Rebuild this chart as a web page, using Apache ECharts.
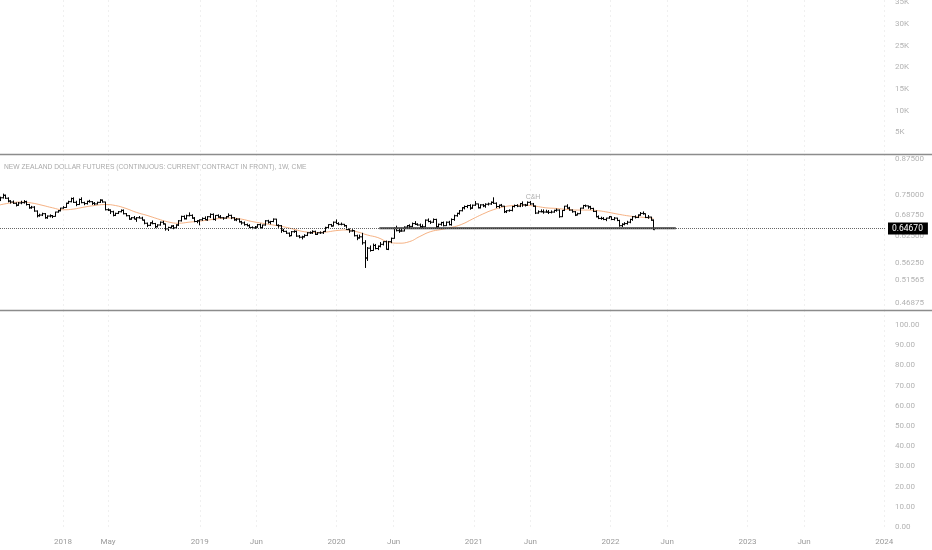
<!DOCTYPE html>
<html>
<head>
<meta charset="utf-8">
<title>New Zealand Dollar Futures 1W</title>
<script src="https://cdn.jsdelivr.net/npm/echarts@6.0.0/dist/echarts.min.js"></script>
<style>
  html, body { margin: 0; padding: 0; background: #fff; }
  #chart { width: 932px; height: 550px; }
</style>
</head>
<body>
<div id="chart"></div>
<script>
// weekly bars, first one is the week of 17 Jul 2017
var WEEK = 7 * 86400000;
var firstWeek = Date.UTC(2017, 6, 17);
function weekDate(i) { return firstWeek + i * WEEK; }

// [open, high, low, close]
var bars = [
  [0.7340, 0.7460, 0.7320, 0.7425], [0.7425, 0.7560, 0.7400, 0.7505], [0.7505, 0.7530, 0.7390, 0.7410],
  [0.7410, 0.7440, 0.7280, 0.7320], [0.7320, 0.7350, 0.7240, 0.7290], [0.7290, 0.7340, 0.7230, 0.7250],
  [0.7250, 0.7280, 0.7150, 0.7190], [0.7190, 0.7290, 0.7170, 0.7260], [0.7260, 0.7330, 0.7220, 0.7270],
  [0.7270, 0.7350, 0.7240, 0.7300], [0.7300, 0.7330, 0.7180, 0.7210], [0.7210, 0.7230, 0.7080, 0.7110],
  [0.7110, 0.7170, 0.7080, 0.7130], [0.7130, 0.7160, 0.6990, 0.7010], [0.7010, 0.7030, 0.6820, 0.6870],
  [0.6870, 0.6930, 0.6840, 0.6890], [0.6890, 0.6960, 0.6860, 0.6930], [0.6930, 0.6950, 0.6780, 0.6810],
  [0.6810, 0.6880, 0.6780, 0.6860], [0.6860, 0.6910, 0.6820, 0.6870], [0.6870, 0.6890, 0.6800, 0.6850],
  [0.6850, 0.6990, 0.6840, 0.6980], [0.6980, 0.7040, 0.6960, 0.7020], [0.7020, 0.7110, 0.7000, 0.7100],
  // 2018
  [0.7100, 0.7160, 0.7080, 0.7120], [0.7120, 0.7270, 0.7110, 0.7250], [0.7250, 0.7330, 0.7230, 0.7300],
  [0.7300, 0.7430, 0.7280, 0.7400], [0.7400, 0.7440, 0.7260, 0.7280], [0.7280, 0.7330, 0.7160, 0.7210],
  [0.7210, 0.7400, 0.7200, 0.7370], [0.7370, 0.7440, 0.7250, 0.7270], [0.7270, 0.7300, 0.7190, 0.7240],
  [0.7240, 0.7330, 0.7210, 0.7310], [0.7310, 0.7360, 0.7270, 0.7300], [0.7300, 0.7320, 0.7200, 0.7250],
  [0.7250, 0.7290, 0.7190, 0.7230], [0.7230, 0.7300, 0.7210, 0.7280], [0.7280, 0.7380, 0.7260, 0.7350],
  [0.7350, 0.7370, 0.7270, 0.7290], [0.7290, 0.7300, 0.7030, 0.7050], [0.7050, 0.7090, 0.7010, 0.7040],
  [0.7040, 0.7060, 0.6920, 0.6990], [0.6990, 0.7020, 0.6850, 0.6880], [0.6880, 0.6960, 0.6860, 0.6940],
  [0.6940, 0.7010, 0.6920, 0.6990], [0.6990, 0.7060, 0.6970, 0.7030], [0.7030, 0.7060, 0.6910, 0.6930],
  [0.6930, 0.6950, 0.6850, 0.6870], [0.6870, 0.6890, 0.6750, 0.6770], [0.6770, 0.6830, 0.6750, 0.6810],
  [0.6810, 0.6860, 0.6760, 0.6770], [0.6770, 0.6830, 0.6690, 0.6810], [0.6810, 0.6860, 0.6790, 0.6800],
  [0.6800, 0.6840, 0.6730, 0.6740], [0.6740, 0.6760, 0.6620, 0.6650], [0.6650, 0.6670, 0.6540, 0.6590],
  [0.6590, 0.6680, 0.6570, 0.6660], [0.6660, 0.6730, 0.6620, 0.6640], [0.6640, 0.6660, 0.6510, 0.6550],
  [0.6550, 0.6620, 0.6530, 0.6600], [0.6600, 0.6700, 0.6580, 0.6680], [0.6680, 0.6720, 0.6610, 0.6630],
  [0.6630, 0.6640, 0.6440, 0.6490], [0.6490, 0.6550, 0.6430, 0.6530], [0.6530, 0.6590, 0.6500, 0.6570],
  [0.6570, 0.6600, 0.6480, 0.6520], [0.6520, 0.6620, 0.6500, 0.6600], [0.6600, 0.6740, 0.6570, 0.6720],
  [0.6720, 0.6870, 0.6700, 0.6850], [0.6850, 0.6880, 0.6760, 0.6780], [0.6780, 0.6900, 0.6760, 0.6870],
  [0.6870, 0.6970, 0.6850, 0.6880], [0.6880, 0.6910, 0.6780, 0.6800], [0.6800, 0.6830, 0.6680, 0.6700],
  [0.6700, 0.6740, 0.6650, 0.6720], [0.6720, 0.6760, 0.6590, 0.6750],
  // 2019
  [0.6750, 0.6820, 0.6720, 0.6790], [0.6790, 0.6850, 0.6740, 0.6750], [0.6750, 0.6860, 0.6720, 0.6840],
  [0.6840, 0.6940, 0.6800, 0.6910], [0.6910, 0.6940, 0.6740, 0.6760], [0.6760, 0.6890, 0.6720, 0.6880],
  [0.6880, 0.6910, 0.6810, 0.6830], [0.6830, 0.6890, 0.6790, 0.6810], [0.6810, 0.6830, 0.6750, 0.6800],
  [0.6800, 0.6860, 0.6780, 0.6840], [0.6840, 0.6940, 0.6820, 0.6880], [0.6880, 0.6900, 0.6770, 0.6810],
  [0.6810, 0.6830, 0.6720, 0.6750], [0.6750, 0.6800, 0.6710, 0.6770], [0.6770, 0.6790, 0.6670, 0.6690],
  [0.6690, 0.6720, 0.6610, 0.6660], [0.6660, 0.6700, 0.6580, 0.6610], [0.6610, 0.6640, 0.6560, 0.6580],
  [0.6580, 0.6620, 0.6510, 0.6530], [0.6530, 0.6560, 0.6480, 0.6520], [0.6520, 0.6570, 0.6490, 0.6540],
  [0.6540, 0.6630, 0.6520, 0.6610], [0.6610, 0.6640, 0.6510, 0.6520], [0.6520, 0.6610, 0.6490, 0.6600],
  [0.6600, 0.6740, 0.6580, 0.6720], [0.6720, 0.6750, 0.6640, 0.6680], [0.6680, 0.6720, 0.6620, 0.6700],
  [0.6700, 0.6790, 0.6680, 0.6770], [0.6770, 0.6780, 0.6580, 0.6590], [0.6590, 0.6620, 0.6520, 0.6580],
  [0.6580, 0.6600, 0.6380, 0.6450], [0.6450, 0.6490, 0.6400, 0.6420], [0.6420, 0.6440, 0.6350, 0.6370],
  [0.6370, 0.6390, 0.6270, 0.6300], [0.6300, 0.6430, 0.6290, 0.6410], [0.6410, 0.6450, 0.6380, 0.6420],
  [0.6420, 0.6440, 0.6270, 0.6290], [0.6290, 0.6320, 0.6230, 0.6260], [0.6260, 0.6300, 0.6200, 0.6270],
  [0.6270, 0.6340, 0.6250, 0.6310], [0.6310, 0.6400, 0.6290, 0.6380], [0.6380, 0.6420, 0.6350, 0.6380],
  [0.6380, 0.6450, 0.6350, 0.6420], [0.6420, 0.6440, 0.6320, 0.6340], [0.6340, 0.6400, 0.6320, 0.6380],
  [0.6380, 0.6420, 0.6350, 0.6380], [0.6380, 0.6430, 0.6350, 0.6420], [0.6420, 0.6550, 0.6400, 0.6530],
  [0.6530, 0.6620, 0.6510, 0.6610], [0.6610, 0.6630, 0.6550, 0.6570], [0.6570, 0.6700, 0.6560, 0.6680],
  [0.6680, 0.6760, 0.6630, 0.6640],
  // 2020
  [0.6640, 0.6680, 0.6590, 0.6620], [0.6620, 0.6670, 0.6590, 0.6620], [0.6620, 0.6630, 0.6550, 0.6580],
  [0.6580, 0.6600, 0.6460, 0.6470], [0.6470, 0.6500, 0.6380, 0.6430], [0.6430, 0.6480, 0.6410, 0.6440],
  [0.6440, 0.6450, 0.6280, 0.6300], [0.6300, 0.6330, 0.6180, 0.6240], [0.6240, 0.6330, 0.6220, 0.6270],
  [0.6270, 0.6380, 0.6060, 0.6110], [0.6110, 0.6180, 0.5480, 0.5720], [0.5720, 0.6000, 0.5650, 0.5970],
  [0.5970, 0.6040, 0.5880, 0.5910], [0.5910, 0.6090, 0.5900, 0.6040], [0.6040, 0.6080, 0.5940, 0.5960],
  [0.5960, 0.6040, 0.5920, 0.6020], [0.6020, 0.6130, 0.5990, 0.6070], [0.6070, 0.6150, 0.6040, 0.6140],
  [0.6140, 0.6170, 0.5930, 0.5940], [0.5940, 0.6160, 0.5920, 0.6140], [0.6140, 0.6250, 0.6100, 0.6230],
  [0.6230, 0.6530, 0.6220, 0.6500], [0.6500, 0.6580, 0.6420, 0.6440], [0.6440, 0.6510, 0.6380, 0.6430],
  [0.6430, 0.6520, 0.6410, 0.6430], [0.6430, 0.6560, 0.6420, 0.6540], [0.6540, 0.6600, 0.6500, 0.6580],
  [0.6580, 0.6620, 0.6510, 0.6560], [0.6560, 0.6670, 0.6540, 0.6640], [0.6640, 0.6710, 0.6600, 0.6620],
  [0.6620, 0.6650, 0.6580, 0.6600], [0.6600, 0.6640, 0.6520, 0.6550], [0.6550, 0.6620, 0.6510, 0.6550],
  [0.6550, 0.6760, 0.6540, 0.6740], [0.6740, 0.6790, 0.6680, 0.6700], [0.6700, 0.6730, 0.6630, 0.6680],
  [0.6680, 0.6790, 0.6660, 0.6760], [0.6760, 0.6780, 0.6520, 0.6550], [0.6550, 0.6640, 0.6530, 0.6620],
  [0.6620, 0.6690, 0.6580, 0.6670], [0.6670, 0.6700, 0.6560, 0.6580], [0.6580, 0.6700, 0.6570, 0.6680],
  [0.6680, 0.6720, 0.6590, 0.6610], [0.6610, 0.6790, 0.6580, 0.6760], [0.6760, 0.6900, 0.6720, 0.6870],
  [0.6870, 0.6960, 0.6840, 0.6940], [0.6940, 0.7040, 0.6900, 0.7020], [0.7020, 0.7130, 0.7000, 0.7110],
  [0.7110, 0.7180, 0.7060, 0.7150], [0.7150, 0.7200, 0.7100, 0.7180], [0.7180, 0.7220, 0.7050, 0.7100],
  [0.7100, 0.7210, 0.7080, 0.7190],
  // 2021
  [0.7190, 0.7320, 0.7170, 0.7230], [0.7230, 0.7240, 0.7090, 0.7110], [0.7110, 0.7220, 0.7090, 0.7200],
  [0.7200, 0.7230, 0.7130, 0.7170], [0.7170, 0.7250, 0.7110, 0.7220], [0.7220, 0.7270, 0.7180, 0.7230],
  [0.7230, 0.7310, 0.7200, 0.7280], [0.7280, 0.7440, 0.7230, 0.7250], [0.7250, 0.7280, 0.7100, 0.7150],
  [0.7150, 0.7210, 0.7090, 0.7190], [0.7190, 0.7230, 0.7140, 0.7160], [0.7160, 0.7170, 0.6950, 0.6990],
  [0.6990, 0.7040, 0.6950, 0.7020], [0.7020, 0.7060, 0.6990, 0.7030], [0.7030, 0.7170, 0.7000, 0.7150],
  [0.7150, 0.7210, 0.7120, 0.7180], [0.7180, 0.7220, 0.7130, 0.7160], [0.7160, 0.7260, 0.7130, 0.7240],
  [0.7240, 0.7310, 0.7140, 0.7200], [0.7200, 0.7230, 0.7150, 0.7190], [0.7190, 0.7310, 0.7170, 0.7280],
  [0.7280, 0.7320, 0.7200, 0.7230], [0.7230, 0.7260, 0.7140, 0.7160], [0.7160, 0.7180, 0.6920, 0.6950],
  [0.6950, 0.7030, 0.6930, 0.6990], [0.6990, 0.7060, 0.6970, 0.6990], [0.6990, 0.7060, 0.6930, 0.6980],
  [0.6980, 0.7050, 0.6960, 0.6980], [0.6980, 0.7040, 0.6920, 0.6970], [0.6970, 0.7030, 0.6940, 0.6980],
  [0.6980, 0.7050, 0.6960, 0.7030], [0.7030, 0.7090, 0.6990, 0.7040], [0.7040, 0.7060, 0.6810, 0.6840],
  [0.6840, 0.7040, 0.6830, 0.7030], [0.7030, 0.7170, 0.7010, 0.7160], [0.7160, 0.7220, 0.7080, 0.7100],
  [0.7100, 0.7140, 0.7020, 0.7040], [0.7040, 0.7060, 0.6960, 0.6990], [0.6990, 0.7010, 0.6860, 0.6890],
  [0.6890, 0.6960, 0.6880, 0.6930], [0.6930, 0.7110, 0.6920, 0.7100], [0.7100, 0.7200, 0.7080, 0.7180],
  [0.7180, 0.7210, 0.7130, 0.7170], [0.7170, 0.7180, 0.7080, 0.7140], [0.7140, 0.7170, 0.7050, 0.7090],
  [0.7090, 0.7110, 0.6980, 0.7000], [0.7000, 0.7030, 0.6820, 0.6840], [0.6840, 0.6880, 0.6770, 0.6790],
  [0.6790, 0.6840, 0.6750, 0.6790], [0.6790, 0.6830, 0.6740, 0.6760], [0.6760, 0.6810, 0.6710, 0.6800],
  [0.6800, 0.6860, 0.6780, 0.6840],
  // 2022
  [0.6840, 0.6850, 0.6740, 0.6760], [0.6760, 0.6830, 0.6730, 0.6800], [0.6800, 0.6810, 0.6710, 0.6730],
  [0.6730, 0.6750, 0.6550, 0.6580], [0.6580, 0.6650, 0.6540, 0.6620], [0.6620, 0.6680, 0.6590, 0.6640],
  [0.6640, 0.6720, 0.6610, 0.6680], [0.6680, 0.6780, 0.6650, 0.6760], [0.6760, 0.6860, 0.6720, 0.6840],
  [0.6840, 0.6880, 0.6790, 0.6820], [0.6820, 0.6910, 0.6800, 0.6890], [0.6890, 0.6980, 0.6870, 0.6940],
  [0.6940, 0.7000, 0.6900, 0.6930], [0.6930, 0.6940, 0.6800, 0.6820], [0.6820, 0.6890, 0.6780, 0.6830],
  [0.6830, 0.6840, 0.6720, 0.6740], [0.6740, 0.6760, 0.6460, 0.6467]
];

// orange moving average, read every 4 weeks: [week index, value]
var maPoints = [
  [0, 0.720], [4, 0.726], [8, 0.729], [12, 0.726], [16, 0.719], [20, 0.711], [24, 0.705], [28, 0.707],
  [32, 0.713], [36, 0.718], [40, 0.721], [44, 0.718], [48, 0.709], [52, 0.697], [56, 0.688], [60, 0.678],
  [64, 0.669], [68, 0.665], [72, 0.668], [76, 0.671], [80, 0.675], [84, 0.679], [88, 0.680], [92, 0.677],
  [96, 0.670], [100, 0.665], [104, 0.660], [108, 0.655], [112, 0.648], [116, 0.641], [120, 0.639], [124, 0.640],
  [128, 0.644], [132, 0.646], [136, 0.641], [140, 0.632], [144, 0.625], [148, 0.613], [152, 0.610], [156, 0.614],
  [160, 0.628], [164, 0.641], [168, 0.647], [172, 0.653], [176, 0.662], [180, 0.677], [184, 0.692], [188, 0.705],
  [192, 0.714], [196, 0.718], [200, 0.719], [204, 0.716], [208, 0.711], [212, 0.709], [216, 0.706], [220, 0.704],
  [224, 0.704], [228, 0.702], [232, 0.697], [236, 0.691], [240, 0.686], [244, 0.683], [248, 0.680], [249, 0.679]
];

var priceTicks = [0.875, 0.75, 0.6875, 0.625, 0.5625, 0.51565, 0.46875];
var volumeTicks = [5000, 10000, 15000, 20000, 25000, 30000, 35000];
var oscTicks = [0, 10, 20, 30, 40, 50, 60, 70, 80, 90, 100];
var dateTicks = [
  Date.UTC(2018, 0, 1), Date.UTC(2018, 4, 1), Date.UTC(2019, 0, 1), Date.UTC(2019, 5, 1),
  Date.UTC(2020, 0, 1), Date.UTC(2020, 5, 1), Date.UTC(2021, 0, 1), Date.UTC(2021, 5, 1),
  Date.UTC(2022, 0, 1), Date.UTC(2022, 5, 1), Date.UTC(2023, 0, 1), Date.UTC(2023, 5, 1),
  Date.UTC(2024, 0, 1)
];
var monthNames = ['Jan', 'Feb', 'Mar', 'Apr', 'May', 'Jun', 'Jul', 'Aug', 'Sep', 'Oct', 'Nov', 'Dec'];
var lastPrice = 0.6467;
// drawn support line and the text note
var supportLine = [[Date.UTC(2020, 3, 24), 0.651], [Date.UTC(2022, 5, 24), 0.651]];
var notePoint = [Date.UTC(2021, 5, 8), 0.745];
var noteText = 'C&H';
var titleText = 'NEW ZEALAND DOLLAR FUTURES (CONTINUOUS: CURRENT CONTRACT IN FRONT), 1W, CME';

var chart = echarts.init(document.getElementById('chart'));
var FONT = 'Roboto';
var labelGray = '#b3b3b3';

function dateLabel(v) {
  var d = new Date(v);
  return d.getUTCMonth() === 0 ? String(d.getUTCFullYear()) : monthNames[d.getUTCMonth()];
}

// x axis is a plain value axis on timestamps
function dateAxis(gridIndex, showLabels) {
  return {
    type: 'value',
    gridIndex: gridIndex,
    min: firstWeek,
    max: Date.UTC(2024, 0, 3),
    axisLine: { show: false },
    axisTick: { show: false, customValues: dateTicks },
    splitLine: { show: true, lineStyle: { color: '#f0f0f0', type: [2, 3], width: 1 } },
    axisLabel: {
      show: showLabels,
      customValues: dateTicks,
      formatter: dateLabel,
      color: '#9a9a9a',
      fontSize: 8,
      fontFamily: FONT,
      margin: 8
    }
  };
}

function ohlcBar(params, api) {
  var t = api.value(0);
  var pO = api.coord([t, api.value(1)]);
  var pH = api.coord([t, api.value(2)]);
  var pL = api.coord([t, api.value(3)]);
  var pC = api.coord([t, api.value(4)]);
  var x = Math.round(pH[0]) + 0.5;
  var st = { stroke: '#000', lineWidth: 1 };
  return {
    type: 'group',
    children: [
      { type: 'line', shape: { x1: x, y1: pH[1], x2: x, y2: pL[1] }, style: st },
      { type: 'line', shape: { x1: x - 1.5, y1: pO[1], x2: x, y2: pO[1] }, style: st },
      { type: 'line', shape: { x1: x, y1: pC[1], x2: x + 1.5, y2: pC[1] }, style: st }
    ]
  };
}

// price scale labels sit on invisible mark lines of the log axis
var tickMarks = priceTicks.map(function (v) {
  return {
    yAxis: v,
    lineStyle: { color: 'rgba(0,0,0,0)', width: 1 },
    label: { formatter: v.toFixed(5), color: labelGray, distance: 10, fontSize: 8 }
  };
});
tickMarks.push({
  yAxis: lastPrice,
  lineStyle: { color: '#666', type: 'dotted', width: 1 },
  label: {
    formatter: lastPrice.toFixed(5),
    color: '#fff',
    backgroundColor: '#000',
    padding: [2, 5, 1, 4],
    fontSize: 8.5,
    distance: 3
  }
});

var option = {
  animation: false,
  backgroundColor: '#fff',
  title: {
    text: titleText,
    left: 4,
    top: 163.5,
    padding: 0,
    textStyle: { fontSize: 6.7, fontWeight: 'normal', color: '#aaaaaa', fontFamily: 'Liberation Sans' }
  },
  grid: [
    { left: 0, right: 47, top: 0, height: 154, outerBoundsMode: 'none' },
    { left: 0, right: 47, top: 154, height: 156, outerBoundsMode: 'none' },
    { left: 0, right: 47, top: 310, height: 220, outerBoundsMode: 'none' }
  ],
  xAxis: [dateAxis(0, false), dateAxis(1, false), dateAxis(2, true)],
  yAxis: [
    {
      type: 'value', gridIndex: 0, position: 'right', min: 0, max: 35540,
      axisLine: { show: false }, axisTick: { show: false }, splitLine: { show: false },
      axisLabel: {
        customValues: volumeTicks, margin: 10, color: labelGray, fontSize: 8, fontFamily: FONT,
        formatter: function (v) { return (v / 1000) + 'K'; }
      }
    },
    {
      type: 'log', logBase: 10, gridIndex: 1, position: 'right', min: 0.4568, max: 0.8974,
      axisLine: { show: false }, axisTick: { show: false }, splitLine: { show: false },
      axisLabel: { show: false }
    },
    {
      type: 'value', gridIndex: 2, position: 'right', min: -1.5, max: 107.4,
      axisLine: { show: false }, axisTick: { show: false }, splitLine: { show: false },
      axisLabel: {
        customValues: oscTicks, margin: 10, color: labelGray, fontSize: 8, fontFamily: FONT,
        formatter: function (v) { return v.toFixed(2); }
      }
    }
  ],
  graphic: [
    { type: 'line', z: 100, shape: { x1: 0, y1: 154.5, x2: 932, y2: 154.5 }, style: { stroke: '#8c8c8c', lineWidth: 1.5 } },
    { type: 'line', z: 100, shape: { x1: 0, y1: 310.5, x2: 932, y2: 310.5 }, style: { stroke: '#8c8c8c', lineWidth: 1.5 } }
  ],
  series: [
    {
      name: 'MA',
      type: 'line',
      xAxisIndex: 1,
      yAxisIndex: 1,
      smooth: true,
      showSymbol: false,
      silent: true,
      data: maPoints.map(function (p) { return [weekDate(p[0]), p[1]]; }),
      lineStyle: { color: '#f3a56f', width: 1, opacity: 0.85 },
      markLine: {
        silent: true,
        symbol: 'none',
        label: { position: 'end', fontSize: 8, fontFamily: FONT },
        data: tickMarks
      },
      z: 2
    },
    {
      name: 'NZD',
      type: 'custom',
      xAxisIndex: 1,
      yAxisIndex: 1,
      clip: true,
      silent: true,
      renderItem: ohlcBar,
      encode: { x: 0, y: [1, 2, 3, 4] },
      data: bars.map(function (b, i) { return [weekDate(i), b[0], b[1], b[2], b[3]]; }),
      z: 3
    },
    {
      name: 'Support',
      type: 'line',
      xAxisIndex: 1,
      yAxisIndex: 1,
      showSymbol: false,
      silent: true,
      data: supportLine,
      lineStyle: { color: '#3a3a3a', width: 2 },
      z: 4
    },
    {
      name: 'Note',
      type: 'scatter',
      xAxisIndex: 1,
      yAxisIndex: 1,
      symbolSize: 1,
      silent: true,
      itemStyle: { color: 'rgba(0,0,0,0)' },
      data: [notePoint],
      label: {
        show: true, position: 'inside', formatter: noteText,
        color: '#9a9a9a', fontSize: 7, fontFamily: 'Liberation Sans'
      }
    }
  ]
};

chart.setOption(option);
window.addEventListener('resize', function () {
  chart.resize();
});
</script>
</body>
</html>
